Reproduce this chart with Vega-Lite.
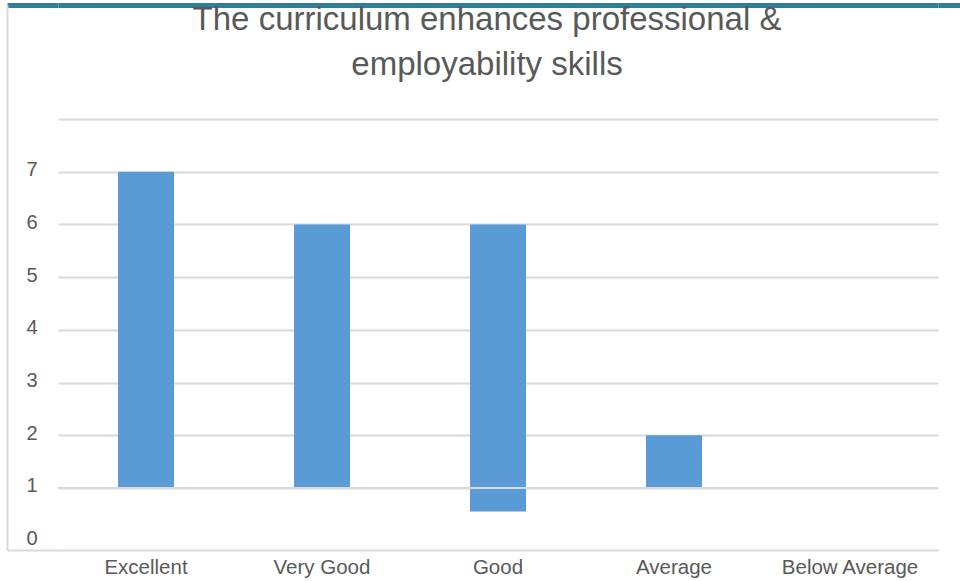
{
  "$schema": "https://vega.github.io/schema/vega-lite/v6.json",
  "autosize": {"type": "none"},
  "width": 880,
  "height": 545,
  "padding": {"left": 58, "top": 5, "right": 22, "bottom": 31},
  "background": "white",
  "title": {
    "text": ["The curriculum enhances professional &", "employability skills"],
    "font": "Liberation Sans",
    "fontSize": 33,
    "fontWeight": "normal",
    "color": "#595959",
    "lineHeight": 45,
    "anchor": "middle",
    "frame": "group",
    "dx": -11,
    "offset": -79
  },
  "config": {
    "view": {"stroke": null},
    "axis": {
      "labelFont": "Liberation Sans",
      "labelFontSize": 20,
      "labelColor": "#595959",
      "title": null
    }
  },
  "data": {
    "values": [
      {"cat": "Excellent", "start": 1, "end": 7},
      {"cat": "Very Good", "start": 1, "end": 6},
      {"cat": "Good", "start": 0.556, "end": 6},
      {"cat": "Average", "start": 1, "end": 2},
      {"cat": "Below Average", "start": 1, "end": 1}
    ]
  },
  "resolve": {"axis": {"x": "independent", "y": "independent"}},
  "layer": [
    {
      "mark": {"type": "bar", "color": "#5b9bd5", "width": 56},
      "encoding": {
        "x": {
          "field": "cat",
          "type": "nominal",
          "sort": null,
          "scale": {"domain": ["Excellent", "Very Good", "Good", "Average", "Below Average"], "paddingInner": 0, "paddingOuter": 0},
          "axis": {
            "orient": "bottom",
            "labelAngle": 0,
            "ticks": false,
            "tickSize": 0,
            "labelPadding": 7,
            "labelFontSize": 20.5,
            "domain": true,
            "domainColor": "#d9d9d9",
            "domainWidth": 2,
            "grid": false
          }
        },
        "y": {
          "field": "start",
          "type": "quantitative",
          "scale": {"domain": [-0.176, 10.161], "nice": false, "zero": false},
          "axis": {
            "orient": "left",
            "values": [0, 1, 2, 3, 4, 5, 6, 7, 8],
            "labelExpr": "datum.value > 7 ? '' : datum.label",
            "domain": false,
            "ticks": false,
            "tickSize": 0,
            "labelPadding": 21,
            "labelOffset": -2,
            "grid": true,
            "gridColor": "#d9d9d9",
            "gridWidth": 2,
            "gridOpacity": {"condition": {"test": "datum.value === 0", "value": 0}, "value": 1}
          }
        },
        "y2": {"field": "end"}
      }
    },
    {
      "data": {"values": [{"level": 1}]},
      "mark": {"type": "rule", "color": "#d9d9d9", "strokeWidth": 2},
      "encoding": {
        "y": {"field": "level", "type": "quantitative", "axis": null}
      }
    },
    {
      "mark": {"type": "point", "opacity": 0},
      "encoding": {
        "x": {
          "field": "cat",
          "type": "nominal",
          "sort": null,
          "axis": {
            "orient": "top",
            "labels": false,
            "ticks": false,
            "grid": false,
            "domain": true,
            "domainColor": "#2e809a",
            "domainWidth": 5
          }
        },
        "y": {
          "field": "end",
          "type": "quantitative",
          "axis": {
            "orient": "left",
            "offset": 51,
            "labels": false,
            "grid": false,
            "domain": true,
            "domainColor": "#d9d9d9",
            "domainWidth": 2,
            "ticks": true,
            "values": [-0.176, 10.161],
            "tickSize": -51,
            "tickColor": {"condition": {"test": "datum.value > 5", "value": "#2e809a"}, "value": "#d9d9d9"},
            "tickWidth": {"condition": {"test": "datum.value > 5", "value": 5}, "value": 2}
          }
        }
      }
    },
    {
      "mark": {"type": "point", "opacity": 0},
      "encoding": {
        "y": {
          "field": "end",
          "type": "quantitative",
          "axis": {
            "orient": "right",
            "labels": false,
            "grid": false,
            "domain": false,
            "ticks": true,
            "values": [10.161],
            "tickSize": 22,
            "tickColor": "#2e809a",
            "tickWidth": 5
          }
        }
      }
    }
  ]
}
